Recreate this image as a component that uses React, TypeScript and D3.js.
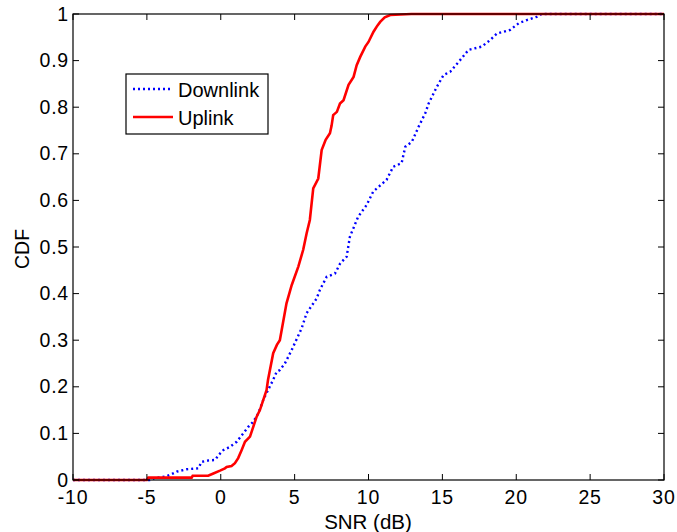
import React from "react";
import * as d3 from "d3";

const xTicks = [-10, -5, 0, 5, 10, 15, 20, 25, 30];
const yTicks = [0, 0.1, 0.2, 0.3, 0.4, 0.5, 0.6, 0.7, 0.8, 0.9, 1];
const yTickLabels = ["0", "0.1", "0.2", "0.3", "0.4", "0.5", "0.6", "0.7", "0.8", "0.9", "1"];

const downlinkSNR = [-10, -4.8, -4.5, -3.66, -3.3, -2.98, -2.3, -1.52, -1.29, -0.8, -0.39, -0.1, 0.17, 0.62, 1.08, 1.52, 1.86, 2.2, 2.54, 2.88, 3.2, 3.55, 3.78, 4.0, 4.34, 4.8, 5.47, 5.81, 6.48, 6.71, 7.17, 7.73, 8.09, 8.52, 8.74, 9.3, 9.87, 10.32, 11.22, 11.67, 12.24, 12.49, 12.94, 13.39, 13.84, 14.07, 14.63, 15.08, 15.53, 16.2, 16.77, 17.67, 18.23, 18.69, 19.59, 20.16, 20.72, 21.39, 21.73, 30];
const downlinkCDF = [0, 0, 0.004, 0.008, 0.013, 0.018, 0.023, 0.025, 0.039, 0.042, 0.043, 0.055, 0.064, 0.071, 0.082, 0.1, 0.114, 0.125, 0.143, 0.172, 0.193, 0.215, 0.232, 0.236, 0.25, 0.279, 0.325, 0.358, 0.389, 0.408, 0.436, 0.443, 0.465, 0.479, 0.522, 0.565, 0.59, 0.619, 0.644, 0.672, 0.68, 0.715, 0.726, 0.758, 0.787, 0.808, 0.844, 0.869, 0.876, 0.901, 0.923, 0.93, 0.944, 0.958, 0.966, 0.98, 0.987, 0.994, 1, 1];

const uplinkSNR = [-10, -5, -4.9, -1.97, -1.9, -0.85, -0.5, -0.05, 0.28, 0.4, 0.73, 0.96, 1.18, 1.41, 1.64, 1.98, 2.2, 2.43, 2.65, 2.88, 3.1, 3.2, 3.55, 3.8, 4.0, 4.45, 4.8, 5.25, 5.58, 5.81, 6.03, 6.26, 6.6, 6.83, 7.1, 7.39, 7.5, 7.61, 7.86, 8.07, 8.31, 8.65, 8.99, 9.2, 9.44, 9.78, 10.0, 10.34, 10.6, 10.79, 11.1, 11.47, 12.9, 30];
const uplinkCDF = [0, 0, 0.005, 0.005, 0.009, 0.009, 0.014, 0.02, 0.025, 0.028, 0.03, 0.036, 0.047, 0.064, 0.082, 0.093, 0.114, 0.136, 0.15, 0.172, 0.193, 0.215, 0.272, 0.29, 0.3, 0.379, 0.418, 0.458, 0.494, 0.529, 0.558, 0.626, 0.647, 0.708, 0.73, 0.744, 0.76, 0.783, 0.79, 0.808, 0.815, 0.848, 0.865, 0.89, 0.908, 0.93, 0.94, 0.962, 0.975, 0.983, 0.993, 0.998, 1, 1];

const seriesNames = ["Downlink", "Uplink"];

const W = 677;
const H = 532;
const left = 73;
const right = 664;
const top = 14;
const bottom = 480;
const font = "'Liberation Sans', Arial, Helvetica, sans-serif";

export default function App() {
  const x = d3.scaleLinear().domain([-10, 30]).range([left, right]);
  const y = d3.scaleLinear().domain([0, 1]).range([bottom, top]);
  const line = d3
    .line<[number, number]>()
    .x((d) => x(d[0]))
    .y((d) => y(d[1]));
  const down = downlinkSNR.map((v, i) => [v, downlinkCDF[i]] as [number, number]);
  const up = uplinkSNR.map((v, i) => [v, uplinkCDF[i]] as [number, number]);
  const tl = 6;

  return (
    <svg
      width={W}
      height={H}
      style={{ position: "absolute", left: 0, top: 0, background: "#fff" }}
      fontFamily={font}
    >
      <rect x={0} y={0} width={W} height={H} fill="#fff" />
      <path d={line(down) || ""} fill="none" stroke="#0000ff" strokeWidth={2.4} strokeDasharray="2,3" />
      <path d={line(up) || ""} fill="none" stroke="#ff0000" strokeWidth={2.6} />
      {/* frame */}
      <rect x={left} y={top} width={right - left} height={bottom - top} fill="none" stroke="#000" strokeWidth={1.2} />
      {xTicks.map((t) => (
        <g key={"xt" + t}>
          <line x1={x(t)} x2={x(t)} y1={bottom} y2={bottom - tl} stroke="#000" strokeWidth={1} />
          <line x1={x(t)} x2={x(t)} y1={top} y2={top + tl} stroke="#000" strokeWidth={1} />
          <text x={x(t)} y={504} textAnchor="middle" fontSize={19.5} fill="#000" letterSpacing={0.8}>
            {String(t)}
          </text>
        </g>
      ))}
      {yTicks.map((t, i) => (
        <g key={"yt" + t}>
          <line x1={left} x2={left + tl} y1={y(t)} y2={y(t)} stroke="#000" strokeWidth={1} />
          <line x1={right} x2={right - tl} y1={y(t)} y2={y(t)} stroke="#000" strokeWidth={1} />
          <text x={69} y={y(t) + 6.5} textAnchor="end" fontSize={19.5} fill="#000" letterSpacing={0.8}>
            {yTickLabels[i]}
          </text>
        </g>
      ))}
      <text x={368} y={529} textAnchor="middle" fontSize={20.5} fill="#000">
        SNR (dB)
      </text>
      <text
        transform={`translate(29,249) rotate(-90)`}
        textAnchor="middle"
        fontSize={19.5}
        fill="#000"
      >
        CDF
      </text>
      {/* legend */}
      <rect x={126} y={74} width={142} height={60} fill="#fff" stroke="#000" strokeWidth={1.2} />
      <line x1={133} x2={173} y1={89} y2={89} stroke="#0000ff" strokeWidth={2.4} strokeDasharray="2,3" />
      <line x1={133} x2={173} y1={117} y2={117} stroke="#ff0000" strokeWidth={2.6} />
      <text x={178} y={97} fontSize={20} fill="#000">
        {seriesNames[0]}
      </text>
      <text x={178} y={124.5} fontSize={20} fill="#000">
        {seriesNames[1]}
      </text>
    </svg>
  );
}
